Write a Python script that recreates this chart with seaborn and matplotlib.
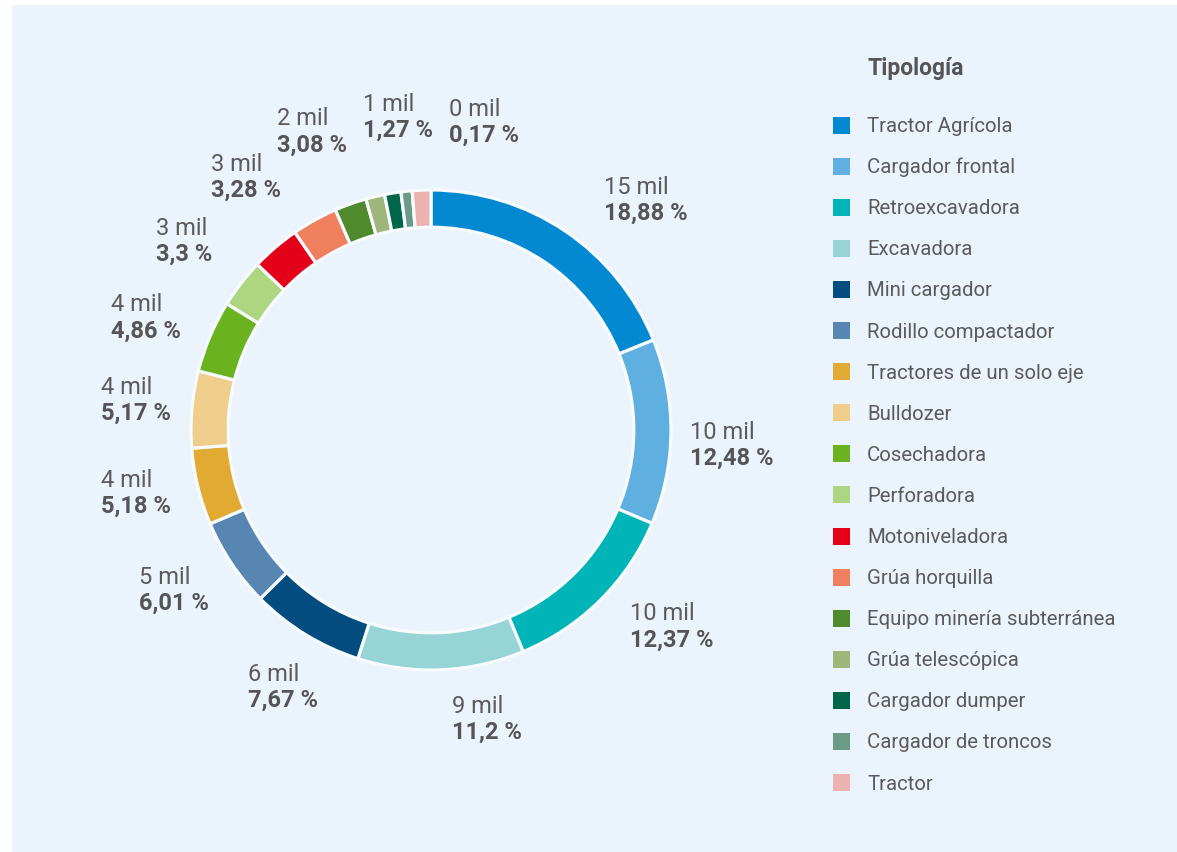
import matplotlib
matplotlib.use("Agg")
import matplotlib.pyplot as plt
import seaborn as sns
import numpy as np
from matplotlib.patches import Rectangle

# ---------------- data ----------------
categories = [
    "Tractor Agrícola", "Cargador frontal", "Retroexcavadora", "Excavadora",
    "Mini cargador", "Rodillo compactador", "Tractores de un solo eje", "Bulldozer",
    "Cosechadora", "Perforadora", "Motoniveladora", "Grúa horquilla",
    "Equipo minería subterránea", "Grúa telescópica", "Cargador dumper",
    "Cargador de troncos", "Tractor",
]
share_pct = [18.88, 12.48, 12.37, 11.2, 7.67, 6.01, 5.18, 5.17, 4.86, 3.3,
             3.28, 3.08, 2.15, 1.27, 1.1, 0.75, 1.25]
label_mil = ["15 mil", "10 mil", "10 mil", "9 mil", "6 mil", "5 mil", "4 mil",
             "4 mil", "4 mil", "3 mil", "3 mil", "2 mil", None, "1 mil", None,
             None, "0 mil"]
label_pct = ["18,88 %", "12,48 %", "12,37 %", "11,2 %", "7,67 %", "6,01 %",
             "5,18 %", "5,17 %", "4,86 %", "3,3 %", "3,28 %", "3,08 %", None,
             "1,27 %", None, None, "0,17 %"]
colors_hex = ["#0388D2", "#5FB0E1", "#00B4B7", "#97D4D5", "#024C80", "#5786B3",
              "#E0AA33", "#EFCD8A", "#6AB21F", "#AED57F", "#E50019", "#F07F5E",
              "#4F8A2C", "#9EB67A", "#00664A", "#6B9A86", "#ECB2B0"]
legend_title = "Tipología"

# ---------------- layout (label nudges) ----------------
label_dang = [-9.0, -2.5, 5.9, 8.6, 1.6, -1.8, -1.5, -0.85, 1.5, 0.3, -4.2,
              -7.2, 0, -7.5, 0, 0, -12.0]
label_rad = [1.31, 1.254, 1.296, 1.229, 1.2375, 1.2625, 1.258, 1.235, 1.275,
             1.296, 1.304, 1.3375, 0, 1.308, 0, 0, 1.30]

sns.set_theme(style="white")
plt.rcParams["font.family"] = ["Roboto", "DejaVu Sans"]

W, H = 1177, 852
fig = plt.figure(figsize=(W / 100, H / 100), dpi=100, facecolor="white")
bg = Rectangle((12 / W, 0), 1 - 12 / W, 1 - 5 / H, transform=fig.transFigure,
               facecolor="#EBF4FC", edgecolor="none", zorder=-10)
fig.patches.append(bg)

ax = fig.add_axes([0, 0, 1, 1])
ax.set_zorder(1)
ax.set_facecolor("none")
cx_px, cy_px, R_px = 431, 430, 240
palette = sns.color_palette(colors_hex)

wedges, _ = ax.pie(share_pct, colors=palette, startangle=90, counterclock=False,
                   radius=1.0,
                   wedgeprops=dict(width=0.155, edgecolor="#F7FBFE", linewidth=2.3))
ax.set_xlim(-cx_px / R_px, (W - cx_px) / R_px)
ax.set_ylim(-(H - cy_px) / R_px, cy_px / R_px)
ax.set_aspect("auto")
ax.axis("off")

txt_col = "#5B5B5B"
fig.canvas.draw()
renderer = fig.canvas.get_renderer()
line_off = 13 / R_px
for i, w in enumerate(wedges):
    if label_pct[i] is None:
        continue
    mid = (w.theta1 + w.theta2) / 2 + label_dang[i]
    r = label_rad[i]
    x = r * np.cos(np.radians(mid))
    y = r * np.sin(np.radians(mid))
    tp = ax.text(x, y - line_off, label_pct[i], ha="center", va="center",
                 fontsize=17, fontweight="bold", color="#555555")
    bb = tp.get_window_extent(renderer=renderer)
    left = ax.transData.inverted().transform((bb.x0, 0))[0]
    ax.text(left, y + line_off, label_mil[i], ha="left", va="center",
            fontsize=17, color=txt_col)

# legend (manual, to match layout)
fig.text(867 / W, 1 - 69 / H, legend_title, ha="left", va="center",
         fontsize=16.5, fontweight="bold", color="#555555")
for i, (name, col) in enumerate(zip(categories, palette)):
    yc = 125 + i * 41.1
    fig.patches.append(Rectangle((833 / W, 1 - (yc + 8.5) / H), 17 / W, 17 / H,
                                 transform=fig.transFigure, facecolor=col,
                                 edgecolor="none", zorder=2))
    fig.text(867 / W, 1 - (yc + 1.5) / H, name, ha="left", va="center",
             fontsize=14.7, color=txt_col)

fig.savefig("out.png", dpi=100, facecolor=fig.get_facecolor())
